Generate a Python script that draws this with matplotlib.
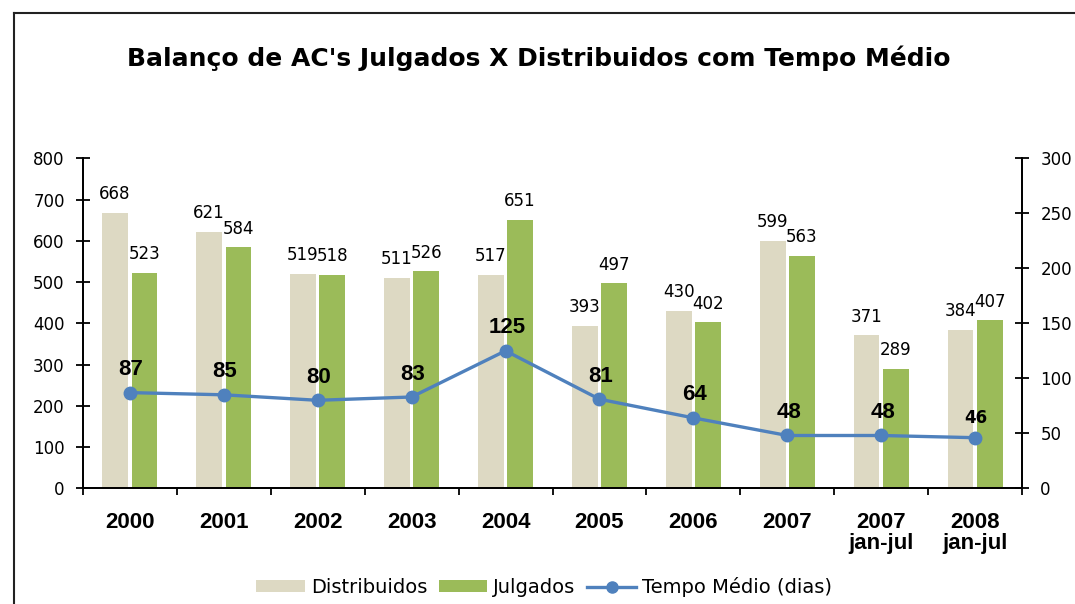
import matplotlib
matplotlib.use("Agg")
import matplotlib.pyplot as plt
from matplotlib.lines import Line2D
from matplotlib.patches import Patch

categories = ["2000", "2001", "2002", "2003", "2004", "2005", "2006", "2007",
              "2007\njan-jul", "2008\njan-jul"]
distribuidos = [668, 621, 519, 511, 517, 393, 430, 599, 371, 384]
julgados = [523, 584, 518, 526, 651, 497, 402, 563, 289, 407]
tempo_medio = [87, 85, 80, 83, 125, 81, 64, 48, 48, 46]

title = "Balanço de AC's Julgados X Distribuidos com Tempo Médio"
left_ticks = [0, 100, 200, 300, 400, 500, 600, 700, 800]
right_ticks = [0, 50, 100, 150, 200, 250, 300]

C_DIST = "#DDD9C3"
C_JULG = "#9BBB59"
C_LINE = "#4F81BD"

plt.rcParams["font.family"] = ["DejaVu Sans"]

fig = plt.figure(figsize=(10.75, 6.04), dpi=100)
W, H = 1075, 604
ax = fig.add_axes([82.7 / W, 1 - 488.3 / H, 939.6 / W, 330 / H])
ax2 = ax.twinx()

x = list(range(len(categories)))
bw = 0.27
off = 0.155
xd = [i - off for i in x]
xj = [i + off for i in x]
ax.bar(xd, distribuidos, width=bw, color=C_DIST, zorder=2)
ax.bar(xj, julgados, width=bw, color=C_JULG, zorder=2)

for xi, v in zip(xd, distribuidos):
    ax.annotate(str(v), (xi, v), xytext=(0, 7), textcoords="offset points",
                ha="center", va="bottom", fontsize=12, color="black")
for xi, v in zip(xj, julgados):
    ax.annotate(str(v), (xi, v), xytext=(0, 7), textcoords="offset points",
                ha="center", va="bottom", fontsize=12, color="black")

ax.set_xlim(-0.5, len(categories) - 0.5)
ax.set_ylim(0, 800)
ax.set_yticks(left_ticks)
ax2.set_ylim(0, 300)
ax2.set_yticks(right_ticks)

ax2.plot(x, tempo_medio, color=C_LINE, lw=2.4, marker="o", markersize=9,
         zorder=5)
for i, v in enumerate(tempo_medio):
    if i == len(tempo_medio) - 1:
        ax2.annotate(str(v), (i, v), xytext=(0, 8), textcoords="offset points",
                     ha="center", va="bottom", fontsize=12, fontweight="bold",
                     family="DejaVu Sans")
    else:
        ax2.annotate(str(v), (i, v), xytext=(1, 9), textcoords="offset points",
                     ha="center", va="bottom", fontsize=16, fontweight="bold",
                     family=["Liberation Sans", "DejaVu Sans"])

# x axis: labels at centres, tick marks at boundaries
ax.set_xticks(x)
ax.set_xticklabels(categories, fontsize=16, fontweight="bold",
                   family=["Liberation Sans", "DejaVu Sans"], linespacing=1.0)
ax.tick_params(axis="x", which="major", length=0, pad=17)
ax.set_xticks([i - 0.5 for i in range(len(categories) + 1)], minor=True)
ax.tick_params(axis="x", which="minor", length=5, width=1.3, direction="out",
               color="black")

ax.tick_params(axis="y", direction="inout", length=10, width=1.3, pad=8,
               labelsize=12, color="black")
ax2.tick_params(axis="y", direction="inout", length=10, width=1.3, pad=8,
                labelsize=12, color="black")

for a in (ax, ax2):
    a.spines["top"].set_visible(False)
    for s in ("left", "right", "bottom"):
        a.spines[s].set_linewidth(1.3)
        a.spines[s].set_color("black")

fig.text(539 / W, 1 - 58 / H, title, ha="center", va="center", fontsize=18,
         fontweight="bold")

handles = [Patch(facecolor=C_DIST, edgecolor="none", label="Distribuidos"),
           Patch(facecolor=C_JULG, edgecolor="none", label="Julgados"),
           Line2D([0], [0], color=C_LINE, lw=2.4, marker="o", markersize=8,
                  label="Tempo Médio (dias)")]
fig.legend(handles=handles, loc="center", bbox_to_anchor=(544 / W, 1 - 587 / H),
           ncol=3, frameon=False, fontsize=14, handlelength=2.5,
           handleheight=0.55, handletextpad=0.3, columnspacing=0.6)

# outer chart-area border (left and top edges visible)
fig.add_artist(Line2D([14 / W, 14 / W], [0, 1 - 13 / H], transform=fig.transFigure,
                      color="#222222", lw=1.5))
fig.add_artist(Line2D([14 / W, 1], [1 - 13 / H, 1 - 13 / H], transform=fig.transFigure,
                      color="#222222", lw=1.5))

fig.savefig("out.png", dpi=100)
